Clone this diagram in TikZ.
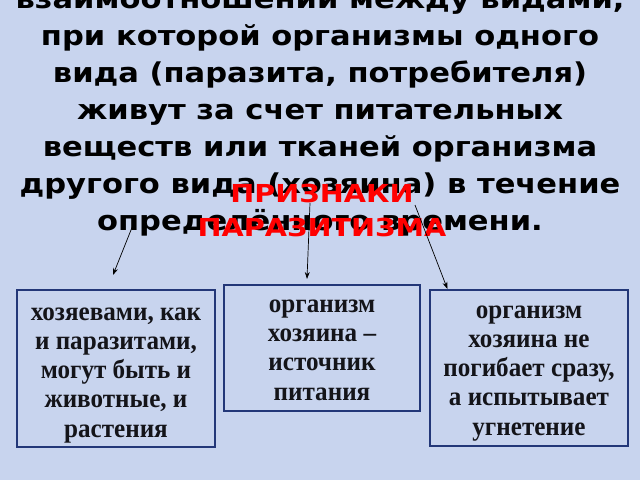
\documentclass[tikz,border=0pt]{standalone}
\usepackage{fontspec}
\usepackage{xcolor}
\usepackage{tikz}
\usetikzlibrary{positioning,arrows.meta}
\newfontfamily\titlefont[FakeStretch=1.12]{DejaVu Sans}
\newfontfamily\signfont[FakeStretch=1.16]{DejaVu Sans}
\newfontfamily\boxfont[FakeStretch=0.94]{Liberation Serif}
\definecolor{bgblue}{RGB}{200,212,238}
\definecolor{boxblue}{RGB}{35,55,120}
\definecolor{boxtext}{RGB}{20,20,25}

\begin{document}
\begin{tikzpicture}[
    x=0.025cm, y=-0.025cm,
    fact/.style={draw=boxblue, line width=1.4pt, rectangle},
    facttext/.style={anchor=base, align=center, text=boxtext, font=\boxfont\bfseries\fontsize{19}{20.8}\selectfont},
    pointer/.style={-{Stealth[length=5pt,width=3.5pt]}, line width=0.5pt, black}
]
    \fill [bgblue] (0,0) rectangle (640,480);
    \useasboundingbox (0,0) rectangle (640,480);

    % Definition text
    \node [anchor=base, align=center, font=\titlefont\bfseries\fontsize{19.4}{26.2}\selectfont] (definition) at (320,230)
        {взаимоотношений между видами,\\при которой организмы одного\\вида (паразита, потребителя)\\живут за счет питательных\\веществ или тканей организма\\другого вида (хозяина) в течение\\определённого времени.};
    \node [anchor=base, align=center, text=red, font=\signfont\bfseries\fontsize{17.6}{23.5}\selectfont] (signs) at (322,236)
        {ПРИЗНАКИ\\ПАРАЗИТИЗМА};

    % Signs
    \node [fact, minimum width=4.95cm, minimum height=3.925cm] (hosts) at (116,368.5) {};
    \node [facttext] at (116,437) {хозяевами, как\\и паразитами,\\могут быть и\\животные, и\\растения};

    \node [fact, minimum width=4.9cm, minimum height=3.15cm] (food) at (322,348) {};
    \node [facttext] at (322,400) {организм\\хозяина –\\источник\\питания};

    \node [fact, minimum width=4.95cm, minimum height=3.9cm] (slow) at (529,368) {};
    \node [facttext] at (529,435) {организм\\хозяина не\\погибает сразу,\\а испытывает\\угнетение};

    % Arrows
    \coordinate (from1) at (135,220);
    \coordinate (from2) at (310,203);
    \coordinate (from3) at (415,205);
    \coordinate (to1) at (113,275);
    \coordinate (to2) at (307,279);
    \draw [pointer] (from1) -- (to1);
    \draw [pointer] (from2) -- (to2);
    \draw [pointer] (from3) -- ([xshift=-58]slow.north);

\end{tikzpicture}
\end{document}
